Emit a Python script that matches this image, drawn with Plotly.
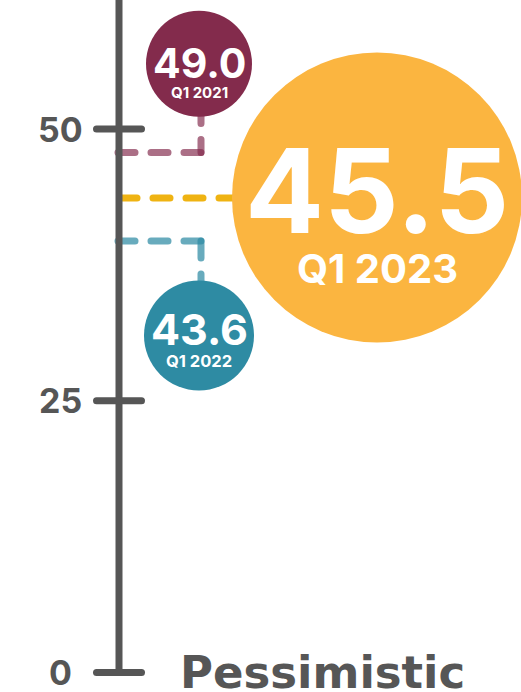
import plotly.graph_objects as go

# ---------------- data ----------------
periods = ["Q1 2021", "Q1 2022", "Q1 2023"]
values = [49.0, 43.6, 45.5]
tick_values = [0, 25, 50]
tick_labels = ["0", "25", "50"]
category = "Pessimistic"

# ---------------- styling / placement ----------------
circle_colors = ["#832B4C", "#2E8BA3", "#FBB540"]
guide_colors = ["rgba(131,43,76,0.68)", "rgba(46,139,163,0.72)", "rgb(239,179,18)"]
circle_x = [199, 199, 377]          # hidden x axis (0..521)
circle_y = [56.0, 31.0, 43.7]       # value axis units
circle_d = [106, 110, 290]          # marker diameter, px
guide_level = [47.84, 39.70, 43.65]
guide_x0 = [118, 118, 120]
guide_x1 = [201, 201, 300]
value_size = [41, 43, 117]
period_size = [15, 16.5, 40]
value_shift = [1, 6.5, 7]
period_shift = [-28.5, -25, -71]

AXIS_X = 119
GRAY = "#565656"
PX_PER_UNIT = 10.87
ZERO_PX = 672.5
H, W = 692, 521
y_min = -(H - ZERO_PX) / PX_PER_UNIT
y_max = ZERO_PX / PX_PER_UNIT

fig = go.Figure()

# guide (dashed) lines
for i in range(3):
    fig.add_trace(go.Scatter(
        x=[guide_x0[i], guide_x1[i]], y=[guide_level[i], guide_level[i]],
        mode="lines", line=dict(color=guide_colors[i], width=7, dash="17px,16px"),
        hoverinfo="skip"))
    if i < 2:
        fig.add_trace(go.Scatter(
            x=[guide_x1[i], guide_x1[i]], y=[guide_level[i], circle_y[i]],
            mode="lines",
            line=dict(color=guide_colors[i], width=7,
                      dash="13px,16px" if i == 0 else "17px,16px"),
            hoverinfo="skip"))

# axis line
fig.add_trace(go.Scatter(x=[AXIS_X, AXIS_X], y=[0, y_max + 2], mode="lines",
                         line=dict(color=GRAY, width=7), hoverinfo="skip"))
# ticks
for tv in tick_values:
    fig.add_trace(go.Scatter(x=[96.5, 141.5], y=[tv, tv], mode="lines",
                             line=dict(color=GRAY, width=7), hoverinfo="skip"))

# bubbles
fig.add_trace(go.Scatter(
    x=circle_x, y=circle_y, mode="markers",
    marker=dict(size=circle_d, color=circle_colors, line=dict(width=0), opacity=1),
    hoverinfo="skip"))

annotations = []
for i in range(3):
    annotations.append(dict(
        x=circle_x[i], y=circle_y[i], xref="x", yref="y", text=f"{values[i]:.1f}",
        showarrow=False, yshift=value_shift[i], xanchor="center", yanchor="middle",
        font=dict(family="Inter", size=value_size[i], color="white", weight=700)))
    annotations.append(dict(
        x=circle_x[i], y=circle_y[i], xref="x", yref="y", text=periods[i],
        showarrow=False, yshift=period_shift[i], xanchor="center", yanchor="middle",
        font=dict(family="Inter", size=period_size[i], color="white", weight=700)))

for tv, tl in zip(tick_values, tick_labels):
    annotations.append(dict(
        x=60, y=tv, xref="x", yref="y", text=tl, showarrow=False,
        xanchor="center", yanchor="middle",
        font=dict(family="Inter", size=34, color=GRAY, weight=700)))

annotations.append(dict(
    x=180, y=0, xref="x", yref="y", text=category, showarrow=False,
    xanchor="left", yanchor="middle", xshift=-2, yshift=0,
    font=dict(family="DejaVu Sans", size=45, color=GRAY, weight=700)))

fig.update_layout(
    width=W, height=H, margin=dict(l=0, r=0, t=0, b=0),
    paper_bgcolor="white", plot_bgcolor="white", showlegend=False,
    xaxis=dict(range=[0, W], visible=False, fixedrange=True),
    yaxis=dict(range=[y_min, y_max], visible=False, fixedrange=True),
    annotations=annotations,
)

fig.write_html(
    "out.html",
    config={"displayModeBar": False, "staticPlot": True},
    post_script="document.querySelectorAll('.js-line').forEach(p=>p.style.strokeLinecap='round');",
)
